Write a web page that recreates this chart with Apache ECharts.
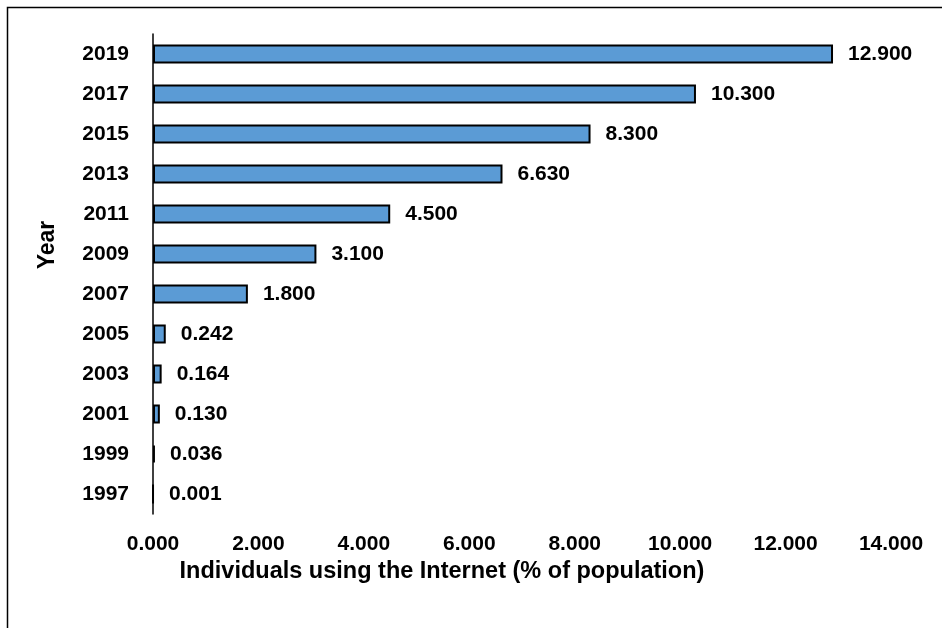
<!DOCTYPE html>
<html>
<head>
<meta charset="utf-8">
<script src="https://cdn.jsdelivr.net/npm/echarts@6/dist/echarts.min.js"></script>
<style>
  html, body { margin: 0; padding: 0; background: #ffffff; }
  #chart { width: 942px; height: 628px; }
</style>
</head>
<body>
<div id="chart"></div>
<script>
// Survey years, bottom to top
const years = ['1997', '1999', '2001', '2003', '2005', '2007', '2009', '2011', '2013', '2015', '2017', '2019'];
// Individuals using the Internet, % of population
const internetUsers = [0.001, 0.036, 0.130, 0.164, 0.242, 1.800, 3.100, 4.500, 6.630, 8.300, 10.300, 12.900];
// Value axis ticks
const xTicks = [0, 2, 4, 6, 8, 10, 12, 14];

const FONT = '"Liberation Sans", Arial, sans-serif';

const chart = echarts.init(document.getElementById('chart'), null, { renderer: 'canvas' });

chart.setOption({
  backgroundColor: '#ffffff',
  animation: false,
  graphic: [{
    type: 'rect',
    left: 5,
    top: 5,
    shape: { width: 1000, height: 700 },
    style: { fill: 'none', stroke: '#000000', lineWidth: 1.5 },
    silent: true,
    z: -1
  }],
  grid: { left: 153, right: 51, top: 34, bottom: 114, containLabel: false },
  xAxis: {
    type: 'value',
    min: xTicks[0],
    max: xTicks[xTicks.length - 1],
    interval: 2,
    name: 'Individuals using the Internet (% of population)',
    nameLocation: 'middle',
    nameGap: 46,
    nameTextStyle: { fontFamily: FONT, fontWeight: 'bold', fontSize: 23.5, color: '#000', padding: [0, 160, 0, 0] },
    axisLine: { show: false },
    axisTick: { show: false },
    splitLine: { show: false },
    axisLabel: {
      margin: 20,
      fontFamily: FONT,
      fontWeight: 'bold',
      fontSize: 21,
      color: '#000',
      formatter: v => v.toFixed(3)
    }
  },
  yAxis: {
    type: 'category',
    data: years,
    name: 'Year',
    nameLocation: 'middle',
    nameGap: 94,
    nameTextStyle: { fontFamily: FONT, fontWeight: 'bold', fontSize: 23, color: '#000', padding: [0, 0, 0, 58] },
    axisLine: { show: true, lineStyle: { color: '#000', width: 1.5 } },
    axisTick: { show: false },
    splitLine: { show: false },
    axisLabel: {
      margin: 24,
      fontFamily: FONT,
      fontWeight: 'bold',
      fontSize: 21,
      color: '#000'
    }
  },
  series: [{
    type: 'bar',
    data: internetUsers,
    barWidth: 19,
    itemStyle: { color: '#5B9BD5', borderColor: '#000', borderWidth: 2 },
    label: {
      show: true,
      position: 'right',
      distance: 15,
      fontFamily: FONT,
      fontWeight: 'bold',
      fontSize: 21,
      color: '#000',
      formatter: p => p.value.toFixed(3)
    }
  }]
});
</script>
</body>
</html>
